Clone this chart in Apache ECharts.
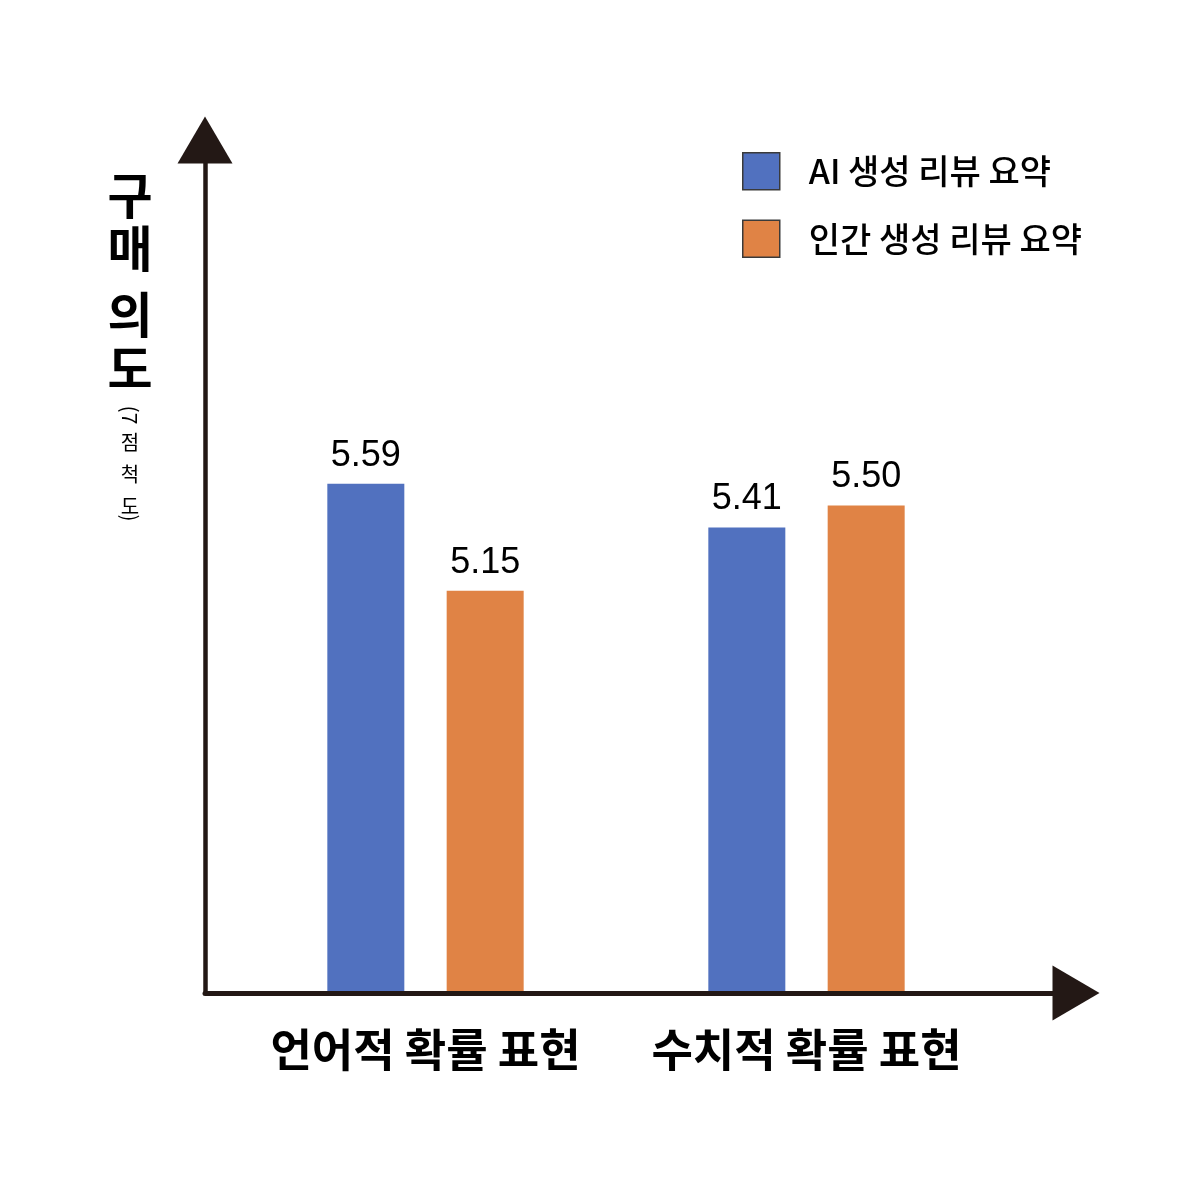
<!DOCTYPE html>
<html>
<head>
<meta charset="utf-8" />
<title>구매 의도</title>
<script src="https://cdn.jsdelivr.net/npm/echarts@6/dist/echarts.min.js"></script>
<style>html,body{margin:0;padding:0;background:#fff}</style>
</head>
<body>
<div id="main" style="width:1200px;height:1200px;"></div>
<script>
// 데이터
var categories = ['언어적 확률 표현', '수치적 확률 표현'];
var seriesNames = ['AI 생성 리뷰 요약', '인간 생성 리뷰 요약'];
var aiValues = [5.59, 5.41];
var humanValues = [5.15, 5.50];

var ink = '#231815';
var kr = '"Noto Sans CJK KR", "Noto Sans", sans-serif';
var numFont = '"Liberation Sans", Arial, sans-serif';

var myChart = echarts.init(document.getElementById('main'));

function valueLabel() {
  return {
    show: true,
    position: 'top',
    distance: 10,
    fontSize: 36,
    fontFamily: numFont,
    color: '#000',
    formatter: function (p) { return p.value.toFixed(2); }
  };
}

myChart.setOption({
  backgroundColor: '#fff',
  animation: false,
  legend: {
    orient: 'vertical',
    left: 742,
    top: 152,
    padding: 0,
    itemWidth: 37,
    itemHeight: 37,
    itemGap: 29,
    icon: 'rect',
    itemStyle: { borderColor: '#3a3a3a', borderWidth: 1.5 },
    textStyle: { fontSize: 34, fontWeight: 500, color: '#000', fontFamily: kr, padding: [0, 0, 0, 24] },
    data: seriesNames
  },
  grid: [
    { left: 235, right: 203, top: 140, bottom: 207 },
    { left: 205, right: 124, top: 140, bottom: 207 }
  ],
  xAxis: [
    {
      type: 'category',
      gridIndex: 0,
      data: categories,
      axisLine: { show: false },
      axisTick: { show: false },
      axisLabel: { interval: 0, fontSize: 45, fontWeight: 'bold', color: '#000', fontFamily: kr, margin: 34 }
    },
    {
      // 화살표 축 (장식)
      type: 'value',
      gridIndex: 1,
      min: 0,
      max: 1,
      z: 5,
      axisLine: {
        show: true,
        onZero: false,
        symbol: ['none', 'triangle'],
        symbolSize: [55, 47],
        lineStyle: { color: ink, width: 5 }
      },
      axisTick: { show: false },
      axisLabel: { show: false },
      splitLine: { show: false }
    }
  ],
  yAxis: [
    { type: 'value', gridIndex: 0, min: 3.5, max: 7, show: false },
    {
      type: 'value',
      gridIndex: 1,
      min: 0,
      max: 1,
      z: 5,
      axisLine: {
        show: true,
        onZero: false,
        symbol: ['none', 'triangle'],
        symbolSize: [55, 47],
        lineStyle: { color: ink, width: 4.5 }
      },
      axisTick: { show: false },
      axisLabel: { show: false },
      splitLine: { show: false }
    }
  ],
  graphic: [
    { type: 'text', x: 130, y: 169, style: { text: '구\n매', font: 'bold 49px ' + kr, fill: '#000', align: 'center', verticalAlign: 'top', lineHeight: 53 } },
    { type: 'text', x: 130, y: 287, style: { text: '의\n도', font: 'bold 49px ' + kr, fill: '#000', align: 'center', verticalAlign: 'top', lineHeight: 54 } },
    { type: 'text', x: 130, y: 415, rotation: -Math.PI / 2, style: { text: '(7', font: '21px ' + kr, fill: '#000', align: 'center', verticalAlign: 'middle' } },
    { type: 'text', x: 130, y: 426, style: { text: '점\n척\n도', font: '20px ' + kr, fill: '#000', align: 'center', verticalAlign: 'top', lineHeight: 32 } },
    { type: 'text', x: 130, y: 518, rotation: -Math.PI / 2, style: { text: ')', font: '21px ' + kr, fill: '#000', align: 'center', verticalAlign: 'middle' } }
  ],
  series: [
    {
      name: seriesNames[0],
      type: 'bar',
      xAxisIndex: 0,
      yAxisIndex: 0,
      data: aiValues,
      barWidth: 77,
      barGap: '55%',
      itemStyle: { color: '#5171BF' },
      label: valueLabel()
    },
    {
      name: seriesNames[1],
      type: 'bar',
      xAxisIndex: 0,
      yAxisIndex: 0,
      data: humanValues,
      barWidth: 77,
      barGap: '55%',
      itemStyle: { color: '#E08345' },
      label: valueLabel()
    }
  ]
});
</script>
</body>
</html>
